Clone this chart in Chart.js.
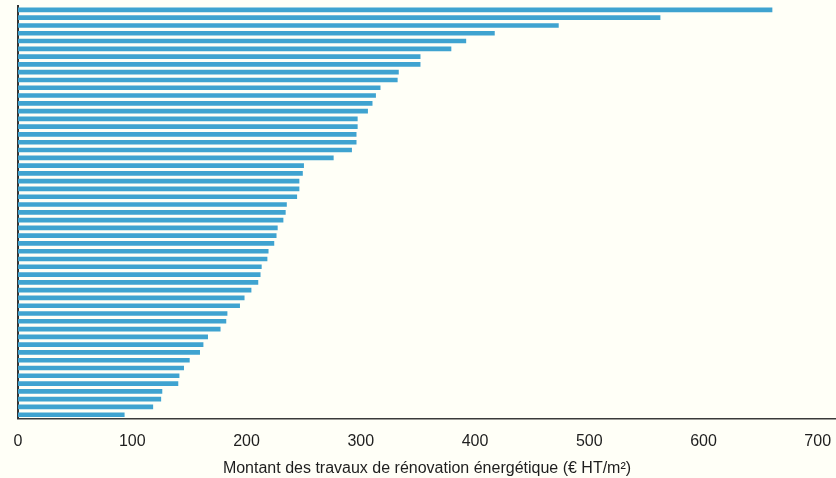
<!DOCTYPE html>
<html lang="fr">
<head>
<meta charset="utf-8">
<title>Montant des travaux de rénovation énergétique</title>
<script src="https://cdn.jsdelivr.net/npm/chart.js@4.4.1/dist/chart.umd.min.js"></script>
<style>
    html, body { margin: 0; padding: 0; background: #fffff7; }
    #chartBox { width: 836px; height: 478px; }
</style>
</head>
<body>
<div id="chartBox"><canvas id="travauxChart"></canvas></div>
<script>
// Montants par opération (€ HT/m²), du plus élevé au plus faible
const montants = [
    660, 562, 473, 417, 392, 379, 352, 352, 333, 332,
    317, 313, 310, 306, 297, 297, 296, 296, 292, 276,
    250, 249, 246, 246, 244, 235, 234, 232, 227, 226,
    224, 219, 218, 213, 212, 210, 204, 198, 194, 183,
    182, 177, 166, 162, 159, 150, 145, 141, 140, 126,
    125, 118, 93
];

// Une catégorie par opération (pas d'étiquette affichée)
const operations = montants.map((_, i) => "Opération " + (i + 1));

// Graduations de l'axe horizontal
const graduations = [0, 100, 200, 300, 400, 500, 600, 700];

const titreAxe = "Montant des travaux de rénovation énergétique (€ HT/m²)";

const police = "'Liberation Sans Narrow', 'Arial Narrow', 'Liberation Sans', sans-serif";

const ctx = document.getElementById("travauxChart").getContext("2d");
new Chart(ctx, {
    type: "bar",
    data: {
        labels: operations,
        datasets: [{
            label: "Montant",
            data: montants,
            backgroundColor: "#3fa3d0",
            barThickness: 4
        }]
    },
    options: {
        indexAxis: "y",
        responsive: true,
        maintainAspectRatio: false,
        animation: false,
        layout: {
            padding: { left: 10, right: 0, top: 6, bottom: 0 }
        },
        plugins: {
            legend: { display: false },
            tooltip: { enabled: false }
        },
        scales: {
            x: {
                min: 0,
                max: 716,
                afterBuildTicks: scale => {
                    scale.ticks = graduations.map(v => ({ value: v }));
                },
                // l'axe va jusqu'au bord droit, le libellé 700 tient quand même
                afterFit: scale => {
                    scale.paddingRight = 0;
                },
                grid: { display: false, drawTicks: false },
                border: { display: true, color: "#3a3a3a", width: 1.5 },
                ticks: {
                    color: "#1e1e1e",
                    padding: 13,
                    maxRotation: 0,
                    font: { family: police, size: 16 }
                },
                title: {
                    display: true,
                    text: titreAxe,
                    color: "#1e1e1e",
                    padding: { top: -5, bottom: 0 },
                    font: { family: police, size: 16 }
                }
            },
            y: {
                grid: { display: false },
                border: { display: true, color: "#333", width: 2 },
                ticks: { display: false }
            }
        }
    }
});
</script>
</body>
</html>
